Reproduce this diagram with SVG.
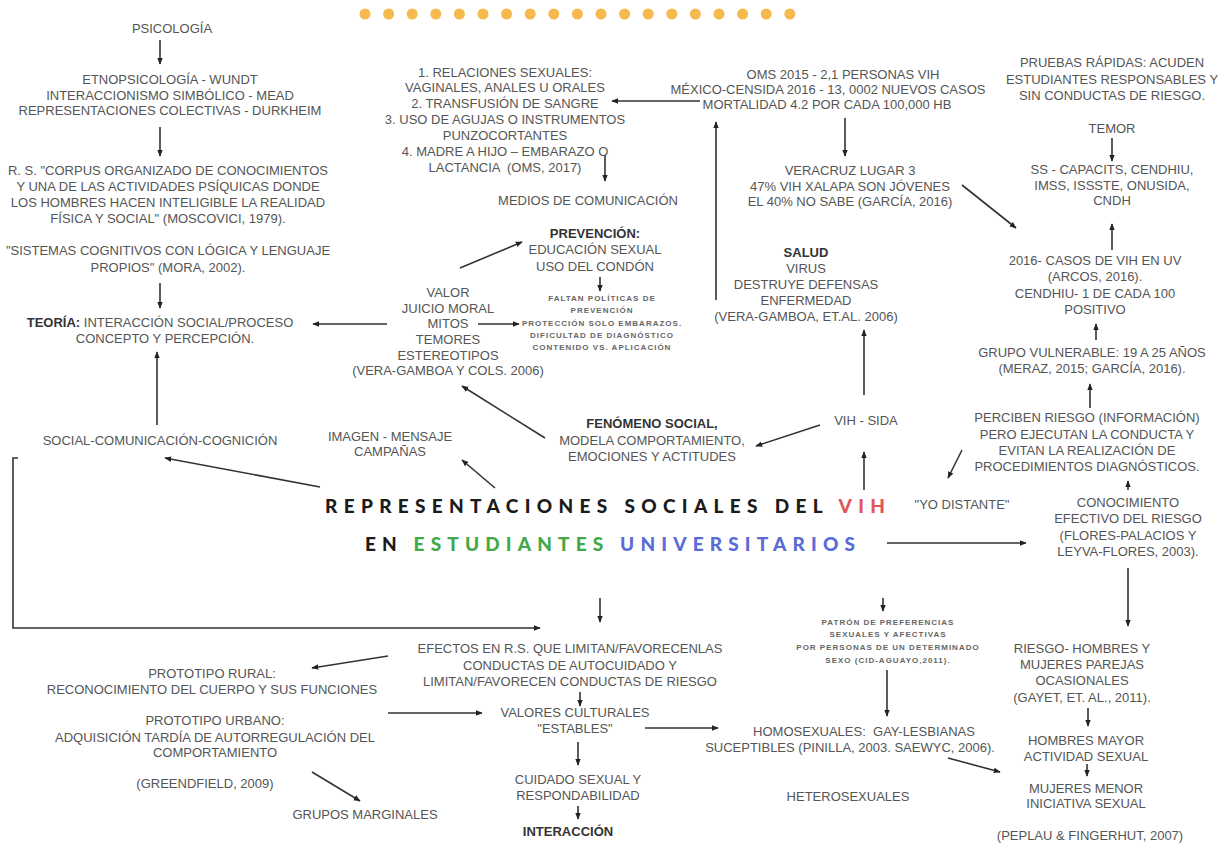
<svg xmlns="http://www.w3.org/2000/svg" width="1230" height="844" viewBox="0 0 1230 844">
<style>
text{font-family:"Liberation Sans",Arial,sans-serif;font-size:13px;fill:#555;text-anchor:middle}
.b{font-weight:bold;fill:#333}
.s{font-size:8px;font-weight:bold;letter-spacing:1px;fill:#666}
.t{font-family:Lato,"Open Sans",sans-serif;font-weight:900;font-size:19px;fill:#1b1b1b;text-anchor:start}
.c line,.c path{stroke:#333;stroke-width:1.6;fill:none;marker-end:url(#ah)}
.dot{fill:#f5b94e}
</style>
<defs>
<marker id="ah" viewBox="0 0 10 10" refX="9" refY="5" markerWidth="7" markerHeight="7" orient="auto" markerUnits="userSpaceOnUse"><path d="M0,1 L10,5 L0,9 z" fill="#222"/></marker>
</defs>
<rect width="1230" height="844" fill="#fff"/>
<g id="dots">
<circle class="dot" cx="365" cy="14" r="5.5"/><circle class="dot" cx="388.6" cy="14" r="5.5"/><circle class="dot" cx="412.2" cy="14" r="5.5"/><circle class="dot" cx="435.8" cy="14" r="5.5"/><circle class="dot" cx="459.4" cy="14" r="5.5"/><circle class="dot" cx="483" cy="14" r="5.5"/><circle class="dot" cx="506.6" cy="14" r="5.5"/><circle class="dot" cx="530.2" cy="14" r="5.5"/><circle class="dot" cx="553.8" cy="14" r="5.5"/><circle class="dot" cx="577.4" cy="14" r="5.5"/><circle class="dot" cx="601" cy="14" r="5.5"/><circle class="dot" cx="624.6" cy="14" r="5.5"/><circle class="dot" cx="648.2" cy="14" r="5.5"/><circle class="dot" cx="671.8" cy="14" r="5.5"/><circle class="dot" cx="695.4" cy="14" r="5.5"/><circle class="dot" cx="719" cy="14" r="5.5"/><circle class="dot" cx="742.6" cy="14" r="5.5"/><circle class="dot" cx="766.2" cy="14" r="5.5"/><circle class="dot" cx="789.8" cy="14" r="5.5"/>
</g>
<g class="c" id="connectors">
<line x1="160" y1="40" x2="160" y2="64"/>
<line x1="160" y1="127" x2="160" y2="156"/>
<line x1="160" y1="283" x2="160" y2="308"/>
<line x1="387" y1="324" x2="313" y2="324"/>
<line x1="157" y1="425" x2="157" y2="352"/>
<path d="M18,458 L13,458 L13,628 L540,628"/>
<line x1="700" y1="101" x2="612" y2="101"/>
<line x1="605" y1="155" x2="605" y2="181"/>
<line x1="845" y1="118" x2="845" y2="156"/>
<line x1="962" y1="185" x2="1016" y2="228"/>
<line x1="716" y1="300" x2="716" y2="122"/>
<line x1="1112" y1="138" x2="1112" y2="161"/>
<line x1="1112" y1="250" x2="1112" y2="224"/>
<line x1="1096" y1="340" x2="1096" y2="324"/>
<line x1="1090" y1="408" x2="1090" y2="384"/>
<line x1="962" y1="450" x2="948" y2="478"/>
<line x1="1128" y1="490" x2="1128" y2="481"/>
<line x1="887" y1="543" x2="1026" y2="543"/>
<line x1="1128" y1="568" x2="1128" y2="626"/>
<line x1="864" y1="395" x2="864" y2="330"/>
<line x1="864" y1="490" x2="864" y2="452"/>
<line x1="820" y1="425" x2="756" y2="446"/>
<line x1="545" y1="438" x2="462" y2="386"/>
<line x1="495" y1="488" x2="462" y2="460"/>
<line x1="320" y1="487" x2="165" y2="458"/>
<line x1="460" y1="268" x2="522" y2="242"/>
<line x1="478" y1="324" x2="519" y2="324"/>
<line x1="600" y1="277" x2="600" y2="291"/>
<line x1="600" y1="598" x2="600" y2="622"/>
<line x1="388" y1="656" x2="312" y2="668"/>
<line x1="580" y1="692" x2="580" y2="706"/>
<line x1="388" y1="713" x2="482" y2="713"/>
<line x1="645" y1="728" x2="718" y2="728"/>
<line x1="578" y1="742" x2="578" y2="765"/>
<line x1="312" y1="772" x2="360" y2="801"/>
<line x1="578" y1="806" x2="578" y2="819"/>
<line x1="883" y1="598" x2="883" y2="611"/>
<line x1="887" y1="670" x2="887" y2="716"/>
<line x1="948" y1="758" x2="1000" y2="772"/>
<line x1="1088" y1="708" x2="1088" y2="726"/>
<line x1="1087" y1="764" x2="1087" y2="776"/>
</g>
<g id="psicologia"><text x="172" y="33">PSICOLOGÍA</text></g>
<g id="etnopsicologia"><text x="170" y="84">ETNOPSICOLOGÍA - WUNDT</text><text x="170" y="100">INTERACCIONISMO SIMBÓLICO - MEAD</text><text x="170" y="115">REPRESENTACIONES COLECTIVAS - DURKHEIM</text></g>
<g id="moscovici"><text x="168" y="175">R. S. "CORPUS ORGANIZADO DE CONOCIMIENTOS</text><text x="168" y="191">Y UNA DE LAS ACTIVIDADES PSÍQUICAS DONDE</text><text x="168" y="207">LOS HOMBRES HACEN INTELIGIBLE LA REALIDAD</text><text x="168" y="223">FÍSICA Y SOCIAL" (MOSCOVICI, 1979).</text></g>
<g id="mora"><text x="168" y="255">"SISTEMAS COGNITIVOS CON LÓGICA Y LENGUAJE</text><text x="168" y="272">PROPIOS" (MORA, 2002).</text></g>
<g id="teoria"><text x="160" y="327"><tspan class="b">TEORÍA:</tspan> INTERACCIÓN SOCIAL/PROCESO</text><text x="165" y="343">CONCEPTO Y PERCEPCIÓN.</text></g>
<g id="social"><text x="160" y="445">SOCIAL-COMUNICACIÓN-COGNICIÓN</text></g>
<g id="transmision"><text x="505" y="77">1. RELACIONES SEXUALES:</text><text x="505" y="92">VAGINALES, ANALES U ORALES</text><text x="505" y="108">2. TRANSFUSIÓN DE SANGRE</text><text x="505" y="124">3. USO DE AGUJAS O INSTRUMENTOS</text><text x="505" y="140">PUNZOCORTANTES</text><text x="505" y="156">4. MADRE A HIJO – EMBARAZO O</text><text x="505" y="172">LACTANCIA &#160;(OMS, 2017)</text></g>
<g id="medios"><text x="588" y="205">MEDIOS DE COMUNICACIÓN</text></g>
<g id="oms"><text x="843" y="79">OMS 2015 - 2,1 PERSONAS VIH</text><text x="828" y="94">MÉXICO-CENSIDA 2016 - 13, 0002 NUEVOS CASOS</text><text x="827" y="109">MORTALIDAD 4.2 POR CADA 100,000 HB</text></g>
<g id="veracruz"><text x="850" y="175">VERACRUZ LUGAR 3</text><text x="850" y="191">47% VIH XALAPA SON JÓVENES</text><text x="850" y="206">EL 40% NO SABE (GARCÍA, 2016)</text></g>
<g id="pruebas"><text x="1112" y="67">PRUEBAS RÁPIDAS: ACUDEN</text><text x="1112" y="84">ESTUDIANTES RESPONSABLES Y</text><text x="1112" y="100">SIN CONDUCTAS DE RIESGO.</text></g>
<g id="temor"><text x="1112" y="133">TEMOR</text></g>
<g id="ss"><text x="1112" y="174">SS - CAPACITS, CENDHIU,</text><text x="1112" y="190">IMSS, ISSSTE, ONUSIDA,</text><text x="1112" y="205">CNDH</text></g>
<g id="casos"><text x="1095" y="265">2016- CASOS DE VIH EN UV</text><text x="1095" y="281">(ARCOS, 2016).</text><text x="1095" y="298">CENDHIU- 1 DE CADA 100</text><text x="1095" y="314">POSITIVO</text></g>
<g id="grupo"><text x="1092" y="357">GRUPO VULNERABLE: 19 A 25 AÑOS</text><text x="1092" y="373">(MERAZ, 2015; GARCÍA, 2016).</text></g>
<g id="perciben"><text x="1087" y="422">PERCIBEN RIESGO (INFORMACIÓN)</text><text x="1087" y="439">PERO EJECUTAN LA CONDUCTA Y</text><text x="1087" y="455">EVITAN LA REALIZACIÓN DE</text><text x="1087" y="471">PROCEDIMIENTOS DIAGNÓSTICOS.</text></g>
<g id="distante"><text x="962" y="509">"YO DISTANTE"</text></g>
<g id="conocimiento"><text x="1128" y="507">CONOCIMIENTO</text><text x="1128" y="523">EFECTIVO DEL RIESGO</text><text x="1128" y="540">(FLORES-PALACIOS Y</text><text x="1128" y="556">LEYVA-FLORES, 2003).</text></g>
<g id="salud"><text class="b" x="806" y="257">SALUD</text><text x="806" y="273">VIRUS</text><text x="806" y="289">DESTRUYE DEFENSAS</text><text x="806" y="305">ENFERMEDAD</text><text x="806" y="321">(VERA-GAMBOA, ET.AL. 2006)</text></g>
<g id="vihsida"><text x="866" y="425">VIH - SIDA</text></g>
<g id="fenomeno"><text class="b" x="652" y="428">FENÓMENO SOCIAL,</text><text x="652" y="445">MODELA COMPORTAMIENTO,</text><text x="652" y="461">EMOCIONES Y ACTITUDES</text></g>
<g id="imagen"><text x="390" y="441">IMAGEN - MENSAJE</text><text x="390" y="456">CAMPAÑAS</text></g>
<g id="valor"><text x="448" y="297">VALOR</text><text x="448" y="313">JUICIO MORAL</text><text x="448" y="328">MITOS</text><text x="448" y="344">TEMORES</text><text x="448" y="360">ESTEREOTIPOS</text><text x="448" y="375">(VERA-GAMBOA Y COLS. 2006)</text></g>
<g id="prevencion"><text class="b" x="595" y="238">PREVENCIÓN:</text><text x="595" y="254">EDUCACIÓN SEXUAL</text><text x="595" y="271">USO DEL CONDÓN</text></g>
<g id="faltan"><text class="s" x="602" y="301">FALTAN POLÍTICAS DE</text><text class="s" x="602" y="313">PREVENCIÓN</text><text class="s" x="602" y="326">PROTECCIÓN SOLO EMBARAZOS.</text><text class="s" x="602" y="338">DIFICULTAD DE DIAGNÓSTICO</text><text class="s" x="602" y="350">CONTENIDO VS. APLICACIÓN</text></g>
<g id="titulo">
<text class="t" x="325" y="513" textLength="560" lengthAdjust="spacing">REPRESENTACIONES SOCIALES DEL <tspan fill="#e05656">VIH</tspan></text>
<text class="t" x="365" y="551" textLength="490" lengthAdjust="spacing">EN <tspan fill="#43a84a">ESTUDIANTES</tspan> <tspan fill="#5a6cd6">UNIVERSITARIOS</tspan></text>
</g>
<g id="efectos"><text x="570" y="653">EFECTOS EN R.S. QUE LIMITAN/FAVORECENLAS</text><text x="570" y="670">CONDUCTAS DE AUTOCUIDADO Y</text><text x="570" y="686">LIMITAN/FAVORECEN CONDUCTAS DE RIESGO</text></g>
<g id="rural"><text x="212" y="678">PROTOTIPO RURAL:</text><text x="212" y="694">RECONOCIMIENTO DEL CUERPO Y SUS FUNCIONES</text></g>
<g id="urbano"><text x="215" y="725">PROTOTIPO URBANO:</text><text x="215" y="742">ADQUISICIÓN TARDÍA DE AUTORREGULACIÓN DEL</text><text x="215" y="757">COMPORTAMIENTO</text></g>
<g id="greendfield"><text x="205" y="788">(GREENDFIELD, 2009)</text></g>
<g id="marginales"><text x="365" y="819">GRUPOS MARGINALES</text></g>
<g id="valores"><text x="575" y="717">VALORES CULTURALES</text><text x="575" y="733">"ESTABLES"</text></g>
<g id="cuidado"><text x="578" y="784">CUIDADO SEXUAL Y</text><text x="578" y="800">RESPONDABILIDAD</text></g>
<g id="interaccion"><text class="b" x="568" y="836">INTERACCIÓN</text></g>
<g id="patron"><text class="s" x="888" y="625">PATRÓN DE PREFERENCIAS</text><text class="s" x="888" y="637">SEXUALES Y AFECTIVAS</text><text class="s" x="888" y="650">POR PERSONAS DE UN DETERMINADO</text><text class="s" x="888" y="663">SEXO (CID-AGUAYO,2011).</text></g>
<g id="homosexuales"><text x="864" y="736">HOMOSEXUALES: &#160;GAY-LESBIANAS</text><text x="850" y="752">SUCEPTIBLES (PINILLA, 2003. SAEWYC, 2006).</text></g>
<g id="heterosexuales"><text x="848" y="801">HETEROSEXUALES</text></g>
<g id="riesgo"><text x="1082" y="653">RIESGO- HOMBRES Y</text><text x="1082" y="669">MUJERES PAREJAS</text><text x="1082" y="685">OCASIONALES</text><text x="1082" y="702">(GAYET, ET. AL., 2011).</text></g>
<g id="hombres"><text x="1086" y="745">HOMBRES MAYOR</text><text x="1086" y="761">ACTIVIDAD SEXUAL</text></g>
<g id="mujeres"><text x="1086" y="793">MUJERES MENOR</text><text x="1086" y="808">INICIATIVA SEXUAL</text></g>
<g id="peplau"><text x="1090" y="840">(PEPLAU &amp; FINGERHUT, 2007)</text></g>
</svg>
